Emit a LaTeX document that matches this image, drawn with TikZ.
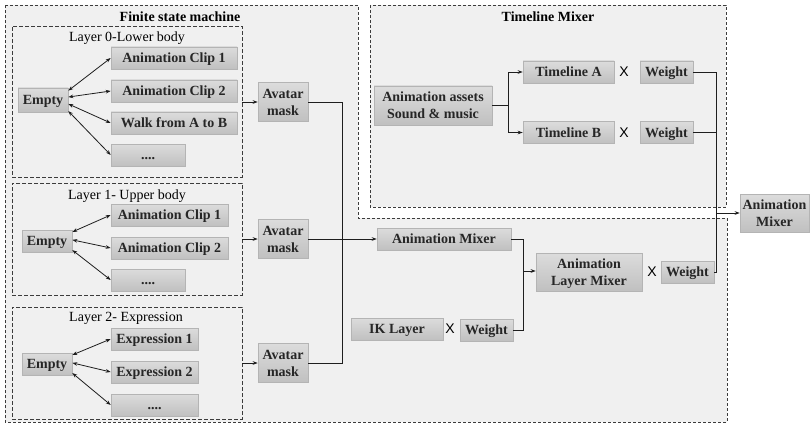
\documentclass[tikz,border=0pt]{standalone}
\usepackage{fontspec}
\setmainfont{Liberation Serif}
\newfontfamily\xsans{Liberation Sans}
\usetikzlibrary{arrows.meta,calc}
\definecolor{regionfill}{HTML}{F0F0F0}
\definecolor{dashc}{HTML}{3C3C3C}
\definecolor{boxtop}{HTML}{DCDCDC}
\definecolor{boxbot}{HTML}{C0C0C0}
\definecolor{boxline}{HTML}{B4B4B4}
\definecolor{wirec}{HTML}{1E1E1E}
\tikzset{
  box/.style={draw=boxline, line width=0.6pt, top color=boxtop, bottom color=boxbot,
    inner sep=0pt, minimum height=22pt, text height=9.4pt, text depth=0pt,
    font=\fontsize{14}{17}\selectfont\bfseries, text=black!85},
  tall/.style={align=center, minimum height=39pt, text height=26.4pt, text depth=0pt},
  region/.style={draw=dashc, dash pattern=on 3pt off 2pt, fill=regionfill, line width=0.9pt},
  layerbox/.style={draw=dashc, dash pattern=on 4pt off 2pt, line width=0.9pt, inner sep=0pt},
  title/.style={font=\fontsize{14}{17}\selectfont\bfseries},
  label/.style={font=\fontsize{14}{17}\selectfont},
  times/.style={font=\xsans\fontsize{14}{17}\selectfont},
  tip/.tip={Stealth[length=5pt,width=3.6pt]},
  wire/.style={draw=wirec, line width=0.8pt},
  arr/.style={wire, -tip},
  dbl/.style={wire, tip-tip},
}
\begin{document}
\begin{tikzpicture}[x=1pt, y=-1pt]
\useasboundingbox (0,0) rectangle (810,425);

% regions
\path[region] (5,5) -- (358,5) -- (358,218) -- (727,218) -- (727,422) -- (5,422) -- cycle;
\path[region] (370,5) rectangle (726,207);
\node[title] (fsmtitle) at (180,17) {Finite state machine};
\node[title] (tmtitle) at (548,17) {Timeline Mixer};

% layer frames
\node[layerbox, minimum width=230pt, minimum height=151pt] (L0) at (127,101.5) {};
\node[layerbox, minimum width=230pt, minimum height=112pt] (L1) at (127,239) {};
\node[layerbox, minimum width=230pt, minimum height=112pt] (L2) at (127,363) {};
\node[label] (L0t) at (127,38) {Layer 0-Lower body};
\node[label] (L1t) at (127,196) {Layer 1- Upper body};
\node[label] (L2t) at (126,318) {Layer 2- Expression};

% layer 0
\node[box, minimum width=50pt, minimum height=24pt] (e0) at (43,100) {Empty};
\node[box, minimum width=126pt] (c01) at (174,58) {Animation Clip 1};
\node[box, minimum width=126pt] (c02) at (174,91) {Animation Clip 2};
\node[box, minimum width=126pt] (c03) at (174,123) {Walk from A to B};
\node[box, minimum width=74pt] (c04) at (148,155) {....};
\draw[dbl] ($(e0.north east)!0.12!(e0.south east)$) -- (c01.west);
\draw[dbl] ($(e0.north east)!0.38!(e0.south east)$) -- (c02.west);
\draw[dbl] ($(e0.north east)!0.66!(e0.south east)$) -- (c03.west);
\draw[dbl] ($(e0.north east)!0.95!(e0.south east)$) -- (c04.west);

% layer 1
\node[box, minimum width=50pt] (e1) at (47,241) {Empty};
\node[box, minimum width=117pt] (c11) at (169.5,215) {Animation Clip 1};
\node[box, minimum width=117pt] (c12) at (169.5,248) {Animation Clip 2};
\node[box, minimum width=74pt] (c13) at (148,280) {....};
\draw[dbl] ($(e1.north east)!0.1!(e1.south east)$) -- (c11.west);
\draw[dbl] ($(e1.north east)!0.45!(e1.south east)$) -- (c12.west);
\draw[dbl] ($(e1.north east)!0.9!(e1.south east)$) -- (c13.west);

% layer 2
\node[box, minimum width=50pt] (e2) at (47,364) {Empty};
\node[box, minimum width=87pt] (x21) at (154.5,339) {Expression 1};
\node[box, minimum width=87pt] (x22) at (154.5,372) {Expression 2};
\node[box, minimum width=87pt] (x23) at (154.5,405) {....};
\draw[dbl] ($(e2.north east)!0.1!(e2.south east)$) -- (x21.west);
\draw[dbl] ($(e2.north east)!0.45!(e2.south east)$) -- (x22.west);
\draw[dbl] ($(e2.north east)!0.9!(e2.south east)$) -- (x23.west);

% avatar masks
\node[box, tall, minimum width=50pt] (av0) at (283,102) {Avatar\\mask};
\node[box, tall, minimum width=50pt] (av1) at (283,239) {Avatar\\mask};
\node[box, tall, minimum width=50pt] (av2) at (283,363) {Avatar\\mask};
\draw[arr] (L0.east |- av0.west) -- (av0.west);
\draw[arr] (L1.east |- av1.west) -- (av1.west);
\draw[arr] (L2.east |- av2.west) -- (av2.west);

% layer mixing
\node[box, minimum width=134pt] (amix) at (444,239) {Animation Mixer};
\node[box, minimum width=92pt] (ik) at (397,329) {IK Layer};
\node[times] (xik) at (450,329) {X};
\node[box, minimum width=53pt] (wik) at (486.5,330) {Weight};
\node[box, tall, minimum width=106pt, minimum height=38pt] (alm) at (589,272) {Animation\\Layer Mixer};
\node[times] (xlm) at (652,272) {X};
\node[box, minimum width=53pt] (wlm) at (687.5,272) {Weight};

\coordinate (bus1) at (342,239);
\draw[wire] (av0.east) -| (bus1);
\draw[wire] (av2.east) -| (bus1);
\draw[arr] (av1.east) -- (amix.west);

\coordinate (bus2) at (523,271);
\draw[wire] (amix.east) -| (bus2);
\draw[wire] (wik.east) -| (bus2);
\draw[arr] (bus2) -- (bus2 -| alm.west);

% timeline mixer
\node[box, tall, minimum width=118pt] (assets) at (433,105.5) {Animation assets\\Sound \& music};
\node[box, minimum width=91pt] (ta) at (568.5,72) {Timeline A};
\node[times] (xa) at (624,72) {X};
\node[box, minimum width=53pt] (wa) at (666.5,72) {Weight};
\node[box, minimum width=91pt] (tb) at (568.5,132.5) {Timeline B};
\node[times] (xb) at (624,132.5) {X};
\node[box, minimum width=53pt] (wb) at (666.5,132.5) {Weight};

\coordinate (split) at (508,105.5);
\draw[wire] (assets.east) -- (split);
\draw[arr] (split) |- (ta.west);
\draw[arr] (split) |- (tb.west);

% final mixer
\node[box, tall, minimum width=69pt, minimum height=38pt] (final) at (774.5,213) {Animation\\Mixer};
\coordinate (bus3) at (716,213);
\draw[wire] (wa.east) -| (bus3);
\draw[wire] (wb.east) -| (bus3);
\draw[wire] (wlm.east) -| (bus3);
\draw[arr] (bus3) -- (final.west);
\end{tikzpicture}
\end{document}
